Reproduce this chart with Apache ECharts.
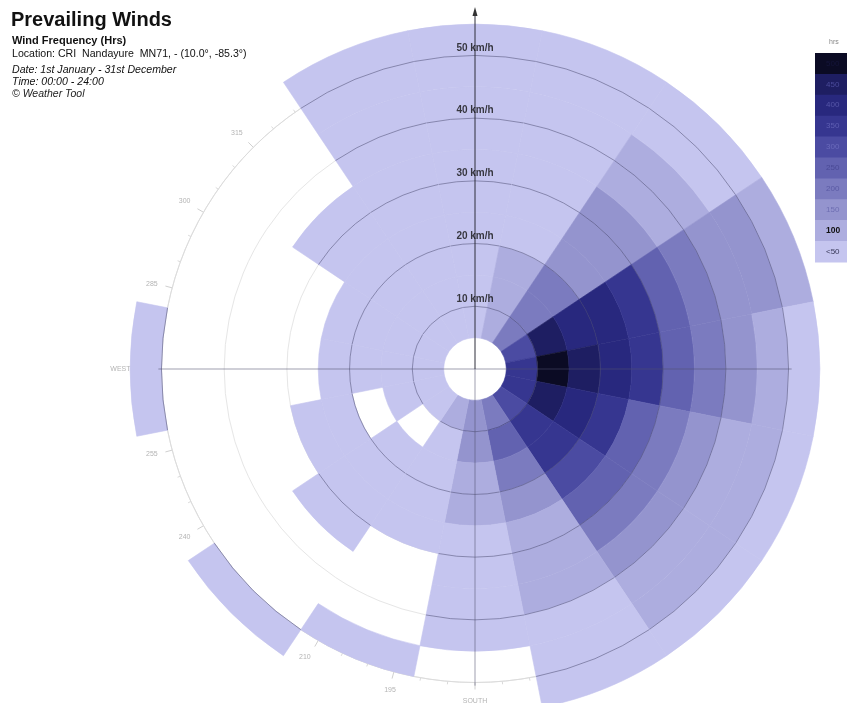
<!DOCTYPE html>
<html>
<head>
<meta charset="utf-8">
<title>Prevailing Winds</title>
<script src="https://cdn.jsdelivr.net/npm/echarts/dist/echarts.min.js"></script>
<style>
  html, body { margin: 0; padding: 0; background: #ffffff; }
  #chart { width: 847px; height: 703px; }
</style>
</head>
<body>
<div id="chart"></div>
<script>
// 16 compass sectors, 22.5 degrees each, clockwise from north
var directions = ['N', 'NNE', 'NE', 'ENE', 'E', 'ESE', 'SE', 'SSE', 'S', 'SSW', 'SW', 'WSW', 'W', 'WNW', 'NW', 'NNW'];

// Speed bin edges in km/h (below 5 km/h is the calm circle)
var speedEdges = [5, 10, 15, 20, 25, 30, 35, 40, 45, 50, 55];

// Hours per speed bin (5-10, 10-15, ... 50-55 km/h) for each direction
var hoursN   = [45, 40, 35, 30, 30, 25, 20, 15, 10, 5];
var hoursNNE = [80, 75, 60, 45, 40, 35, 30, 20, 15, 8];
var hoursNE  = [175, 165, 155, 130, 115, 100, 75, 60, 45, 25];
var hoursENE = [270, 410, 390, 360, 310, 240, 190, 140, 100, 60];
var hoursE   = [330, 480, 430, 370, 300, 230, 170, 120, 75, 40];
var hoursESE = [300, 400, 370, 300, 230, 170, 120, 75, 50, 30];
var hoursSE  = [270, 320, 330, 260, 200, 150, 110, 80, 55, 30];
var hoursSSE = [180, 210, 170, 120, 90, 70, 55, 45, 35, 25];
var hoursS   = [110, 100, 75, 55, 40, 30, 20, 10, 0, 0];
var hoursSSW = [60, 45, 35, 30, 15, 0, 0, 0, 8, 0];
var hoursSW  = [40, 0, 35, 30, 20, 10, 0, 0, 0, 5];
var hoursWSW = [40, 35, 0, 25, 15, 0, 0, 0, 0, 0];
var hoursW   = [45, 40, 35, 25, 0, 0, 0, 0, 0, 10];
var hoursWNW = [45, 40, 35, 25, 0, 0, 0, 0, 0, 0];
var hoursNW  = [40, 35, 30, 25, 20, 15, 0, 0, 0, 0];
var hoursNNW = [40, 35, 30, 30, 25, 20, 15, 10, 8, 5];

// Speed rings labelled along the north axis
var ringSpeeds = [10, 20, 30, 40, 50];

// Colour scale (top to bottom) with lower bound of each band in hours
var legendLabels = ['500', '450', '400', '350', '300', '250', '200', '150', '100', '<50'];
var legendLower  = [450, 400, 350, 300, 250, 200, 150, 100, 50, 0];
var legendColors = ['#0b0b24', '#1e1e62', '#28287e', '#363690', '#4b4ba2', '#6262b0', '#7b7bbf', '#9494ce', '#adaddf', '#c5c5ef'];
var legendTextColors = ['#15153a', '#4a4a9a', '#5656a8', '#5e5eb2', '#6a6abb', '#4a4a96', '#5a5aa4', '#6e6eb2', '#111111', '#3a3a5a'];

// Compass labels on the outer ring (east sits under the cells)
var rimNames = { 0: 'NORTH', 90: '', 180: 'SOUTH', 270: '{w|WEST}', 360: '' };

var hoursByDir = [hoursN, hoursNNE, hoursNE, hoursENE, hoursE, hoursESE, hoursSE, hoursSSE,
                  hoursS, hoursSSW, hoursSW, hoursWSW, hoursW, hoursWNW, hoursNW, hoursNNW];

var sectorWidth = 360 / directions.length;
var cells = [];
directions.forEach(function (d, i) {
  hoursByDir[i].forEach(function (h, k) {
    if (h > 0) cells.push([i * sectorWidth, speedEdges[k], speedEdges[k + 1], h, d]);
  });
});

var pxPerKmh = 6.27;
var center = [475, 369];
var FONT = '"Liberation Sans", Arial, Helvetica, sans-serif';

function renderCell(params, api) {
  var cs = params.coordSys;
  var cx = cs.cx, cy = cs.cy;
  var ang = api.value(0), s0 = api.value(1), s1 = api.value(2);
  var half = sectorWidth / 2;
  function pt(r, a) { return api.coord([r, a]); }
  function rad(r, a) { var p = pt(r, a); return Math.sqrt((p[0] - cx) * (p[0] - cx) + (p[1] - cy) * (p[1] - cy)); }
  function scr(r, a) { var p = pt(r, a); return Math.atan2(p[1] - cy, p[0] - cx); }
  var sa = scr(s1, ang - half), ea = scr(s1, ang + half);
  if (ea < sa) ea += Math.PI * 2;
  var r0 = rad(s0, ang), r1 = rad(s1, ang);
  var color = api.visual('color');
  var children = [{
    type: 'sector',
    shape: { cx: cx, cy: cy, r0: r0, r: r1, startAngle: sa, endAngle: ea, clockwise: true },
    style: { fill: color, stroke: color, lineWidth: 0.6 }
  }];
  if (ringSpeeds.indexOf(s0) >= 0) {
    children.push({
      type: 'arc',
      shape: { cx: cx, cy: cy, r: r0, startAngle: sa, endAngle: ea, clockwise: true },
      style: { stroke: 'rgba(70,70,110,0.5)', fill: null, lineWidth: 1 }
    });
  }
  return { type: 'group', children: children };
}

var pieces = legendLower.map(function (lo, i) {
  var p = { gte: lo, color: legendColors[i] };
  if (i > 0) p.lt = legendLower[i - 1];
  if (lo === 0) { delete p.gte; p.gt = 0; }
  return p;
});

// Legend boxes and labels
var legendTop = 53, bandH = 20.9, legendX = 815;
var legendGraphics = [{
  type: 'text', left: 829, top: 39,
  style: { text: 'hrs', font: '7px ' + FONT, fill: '#888888' }
}];
legendColors.forEach(function (c, i) {
  legendGraphics.push({
    type: 'rect',
    shape: { x: legendX, y: legendTop + i * bandH, width: 40, height: bandH + 0.6 },
    style: { fill: c }
  });
});
legendLabels.forEach(function (t, i) {
  var isBold = t === '100';
  legendGraphics.push({
    type: 'text', x: 826, y: legendTop + i * bandH + bandH / 2,
    style: {
      text: t, font: (isBold ? 'bold 8.5px ' : '8px ') + FONT,
      fill: legendTextColors[i], verticalAlign: 'middle', align: 'left'
    }
  });
});

var titleGraphics = [
  { type: 'text', left: 11, top: 10, style: { text: 'Prevailing Winds', font: 'bold 20px ' + FONT, fill: '#111111' } },
  { type: 'text', left: 12, top: 35.5, style: { text: 'Wind Frequency (Hrs)', font: 'bold 11px ' + FONT, fill: '#111111' } },
  { type: 'text', left: 12, top: 49, style: { text: 'Location: CRI  Nandayure  MN71, - (10.0\u00b0, -85.3\u00b0)', font: '10.6px ' + FONT, fill: '#111111' } },
  { type: 'text', left: 12, top: 64.5, style: { text: 'Date: 1st January - 31st December', font: 'italic 10.6px ' + FONT, fill: '#111111' } },
  { type: 'text', left: 12, top: 76.5, style: { text: 'Time: 00:00 - 24:00', font: 'italic 10.6px ' + FONT, fill: '#111111' } },
  { type: 'text', left: 12, top: 88.5, style: { text: '\u00a9 Weather Tool', font: 'italic 10.5px ' + FONT, fill: '#222222' } }
];

var chart = echarts.init(document.getElementById('chart'), null, { renderer: 'canvas' });

chart.setOption({
  backgroundColor: '#ffffff',
  animation: false,
  polar: [
    { center: center, radius: 58 * pxPerKmh },
    { center: center, radius: 50 * pxPerKmh }
  ],
  angleAxis: [
    {
      polarIndex: 0, type: 'value', min: 0, max: 360, startAngle: 90, clockwise: true,
      axisLine: { show: false }, axisTick: { show: false }, axisLabel: { show: false }, splitLine: { show: false }
    },
    {
      polarIndex: 1, type: 'value', min: 0, max: 360, interval: 15, startAngle: 90, clockwise: true,
      axisLine: { show: true, lineStyle: { color: '#dcdcdc', width: 1 } },
      axisTick: { show: true, length: 7, lineStyle: { color: '#d0d0d0' } },
      minorTick: { show: true, splitNumber: 3, length: 3, lineStyle: { color: '#dadada' } },
      axisLabel: {
        show: true, margin: 15, fontSize: 7, color: '#b4b4b4', fontFamily: FONT,
        rich: { w: { fontSize: 7, color: '#b4b4b4', fontFamily: FONT, padding: [0, 16, 0, 0] } },
        formatter: function (v) { return rimNames.hasOwnProperty(v) ? rimNames[v] : String(v); }
      },
      splitLine: { show: false }
    }
  ],
  radiusAxis: [
    {
      polarIndex: 0, type: 'value', min: 0, max: 58, interval: 10,
      axisLine: { show: false }, axisTick: { show: false }, axisLabel: { show: false },
      splitLine: { show: true, lineStyle: { color: ['#e6e6e6', '#e6e6e6', '#e6e6e6', '#e6e6e6', '#e6e6e6', '#e6e6e6', 'rgba(0,0,0,0)'], width: 1 } }
    },
    {
      polarIndex: 1, type: 'value', min: 0, max: 50, show: false
    }
  ],
  visualMap: {
    show: false, type: 'piecewise', seriesIndex: 0, dimension: 3, pieces: pieces
  },
  series: [
    {
      name: 'Wind Frequency',
      type: 'custom',
      coordinateSystem: 'polar',
      polarIndex: 0,
      encode: { radius: 2, angle: 0 },
      data: cells,
      renderItem: renderCell,
      z: 2,
      silent: true
    },
    {
      name: 'East-West axis',
      type: 'line', coordinateSystem: 'polar', polarIndex: 0,
      data: [[50.5, 270], [50.5, 90]],
      symbol: 'none', lineStyle: { color: 'rgba(80,80,110,0.55)', width: 1 },
      z: 4, silent: true
    },
    {
      name: 'South axis',
      type: 'line', coordinateSystem: 'polar', polarIndex: 0,
      data: [[0, 180], [50.5, 180]],
      symbol: 'none', lineStyle: { color: 'rgba(80,80,110,0.55)', width: 1 },
      z: 4, silent: true
    },
    {
      name: 'North axis',
      type: 'line', coordinateSystem: 'polar', polarIndex: 0,
      showSymbol: true, symbol: 'none',
      data: [[0, 0], { value: [57, 0], symbol: 'triangle', symbolSize: [5, 9], itemStyle: { color: '#333333' } }],
      lineStyle: { color: '#2e2e3a', width: 1 },
      z: 5, silent: true
    },
    {
      name: 'Speed labels',
      type: 'scatter', coordinateSystem: 'polar', polarIndex: 0,
      data: ringSpeeds.map(function (s) { return [s, 0]; }),
      symbolSize: 1,
      itemStyle: { color: 'rgba(0,0,0,0)' },
      label: {
        show: true, position: 'top', distance: 2,
        formatter: function (p) { return p.value[0] + ' km/h'; },
        fontFamily: FONT, fontWeight: 'bold', fontSize: 10, color: '#111111'
      },
      z: 6, silent: true
    }
  ],
  graphic: titleGraphics.concat(legendGraphics)
});
</script>
</body>
</html>
